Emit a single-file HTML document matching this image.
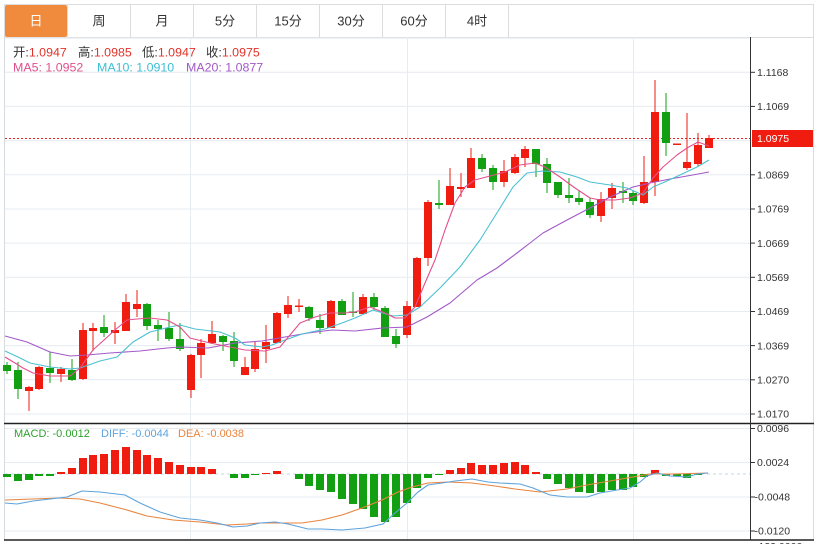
<!DOCTYPE html>
<html><head><meta charset="utf-8"><style>
html,body{margin:0;padding:0;background:#fff;}
svg{display:block;}
.r{fill:#f01c10}.g{fill:#12a012}
text{font-family:"Liberation Sans","Noto Sans CJK SC",sans-serif;}
.ax{font-size:10.5px;fill:#333;}
</style></head><body>
<svg width="827" height="544" viewBox="0 0 827 544" xmlns="http://www.w3.org/2000/svg">
<rect width="827" height="544" fill="#fff"/>
<!-- tab bar -->
<rect x="4.5" y="4.5" width="809" height="33" fill="#fff" stroke="#dcdcdc"/>
<rect x="5" y="5" width="62" height="32" rx="2" fill="#f08a3c"/>
<g stroke="#dcdcdc">
<line x1="67.5" y1="5" x2="67.5" y2="37"/><line x1="130.5" y1="5" x2="130.5" y2="37"/>
<line x1="193.5" y1="5" x2="193.5" y2="37"/><line x1="256.5" y1="5" x2="256.5" y2="37"/>
<line x1="319.5" y1="5" x2="319.5" y2="37"/><line x1="382.5" y1="5" x2="382.5" y2="37"/>
<line x1="445.5" y1="5" x2="445.5" y2="37"/><line x1="508.5" y1="5" x2="508.5" y2="37"/>
</g>
<g font-size="13" text-anchor="middle" fill="#333">
<text x="36" y="25.5" fill="#fff">日</text>
<text x="99" y="25.5">周</text>
<text x="162" y="25.5">月</text>
<text x="225" y="25.5">5分</text>
<text x="288" y="25.5">15分</text>
<text x="351" y="25.5">30分</text>
<text x="414" y="25.5">60分</text>
<text x="477" y="25.5">4时</text>
</g>
<!-- borders -->
<line x1="4.5" y1="37" x2="4.5" y2="540" stroke="#d6dbe0"/>
<line x1="813.5" y1="37" x2="813.5" y2="540" stroke="#dcdcdc"/>
<!-- grid main -->
<g stroke="#e6ecf0" stroke-width="1">
<line x1="5" y1="38.1" x2="750" y2="38.1"/>
<line x1="5" y1="72.3" x2="750" y2="72.3"/>
<line x1="5" y1="106.4" x2="750" y2="106.4"/>
<line x1="5" y1="140.6" x2="750" y2="140.6"/>
<line x1="5" y1="174.8" x2="750" y2="174.8"/>
<line x1="5" y1="209" x2="750" y2="209"/>
<line x1="5" y1="243.1" x2="750" y2="243.1"/>
<line x1="5" y1="277.3" x2="750" y2="277.3"/>
<line x1="5" y1="311.5" x2="750" y2="311.5"/>
<line x1="5" y1="345.6" x2="750" y2="345.6"/>
<line x1="5" y1="379.8" x2="750" y2="379.8"/>
<line x1="5" y1="414" x2="750" y2="414"/>
<line x1="5" y1="428.5" x2="750" y2="428.5"/>
<line x1="5" y1="462.5" x2="750" y2="462.5"/>
<line x1="5" y1="497" x2="750" y2="497"/>
<line x1="5" y1="531" x2="750" y2="531"/>
<line x1="190.5" y1="37" x2="190.5" y2="540"/>
<line x1="407.5" y1="37" x2="407.5" y2="540"/>
<line x1="633.5" y1="37" x2="633.5" y2="540"/>
</g>
<!-- legend -->
<g font-size="12.4">
<text x="13" y="56.5"><tspan fill="#333">开:</tspan><tspan fill="#e0332b">1.0947</tspan></text>
<text x="78" y="56.5"><tspan fill="#333">高:</tspan><tspan fill="#e0332b">1.0985</tspan></text>
<text x="142" y="56.5"><tspan fill="#333">低:</tspan><tspan fill="#e0332b">1.0947</tspan></text>
<text x="206" y="56.5"><tspan fill="#333">收:</tspan><tspan fill="#e0332b">1.0975</tspan></text>
<text x="13" y="71.5" fill="#e0508a">MA5: 1.0952</text>
<text x="97" y="71.5" fill="#3cbfd6">MA10: 1.0910</text>
<text x="186" y="71.5" fill="#a259c8">MA20: 1.0877</text>
</g>
<!-- current price line -->
<line x1="5" y1="138.5" x2="750" y2="138.5" stroke="#e02020" stroke-dasharray="2,2"/>
<!-- candles -->
<g shape-rendering="crispEdges">
<rect class="g" x="3" y="365" width="8" height="6"/><rect class="g" x="6.5" y="362" width="1" height="12"/>
<rect class="g" x="14" y="370" width="8" height="19"/><rect class="g" x="17.5" y="362" width="1" height="37"/>
<rect class="r" x="25" y="387" width="8" height="4"/><rect class="r" x="28.5" y="386" width="1" height="25"/>
<rect class="r" x="35" y="367" width="8" height="22"/><rect class="r" x="38.5" y="366" width="1" height="24"/>
<rect class="g" x="46" y="368" width="8" height="5"/><rect class="g" x="49.5" y="352" width="1" height="31"/>
<rect class="r" x="57" y="369" width="8" height="5"/><rect class="r" x="60.5" y="367" width="1" height="15"/>
<rect class="g" x="68" y="370" width="8" height="10"/><rect class="g" x="71.5" y="359" width="1" height="22"/>
<rect class="r" x="79" y="330" width="8" height="49"/><rect class="r" x="82.5" y="323" width="1" height="57"/>
<rect class="r" x="89" y="328" width="8" height="3"/><rect class="r" x="92.5" y="323" width="1" height="28"/>
<rect class="g" x="100" y="327" width="8" height="6"/><rect class="g" x="103.5" y="315" width="1" height="22"/>
<rect class="r" x="111" y="330" width="8" height="3"/><rect class="r" x="114.5" y="322" width="1" height="22"/>
<rect class="r" x="122" y="302" width="8" height="29"/><rect class="r" x="125.5" y="294" width="1" height="37"/>
<rect class="r" x="133" y="304" width="8" height="5"/><rect class="r" x="136.5" y="290" width="1" height="27"/>
<rect class="g" x="143" y="304" width="8" height="22"/><rect class="g" x="146.5" y="303" width="1" height="27"/>
<rect class="g" x="154" y="325" width="8" height="4"/><rect class="g" x="157.5" y="320" width="1" height="21"/>
<rect class="g" x="165" y="328" width="8" height="11"/><rect class="g" x="168.5" y="312" width="1" height="29"/>
<rect class="g" x="176" y="339" width="8" height="10"/><rect class="g" x="179.5" y="323" width="1" height="28"/>
<rect class="r" x="187" y="355" width="8" height="35"/><rect class="r" x="190.5" y="354" width="1" height="44"/>
<rect class="r" x="197" y="343" width="8" height="12"/><rect class="r" x="200.5" y="339" width="1" height="39"/>
<rect class="r" x="208" y="334" width="8" height="9"/><rect class="r" x="211.5" y="321" width="1" height="22"/>
<rect class="g" x="219" y="336" width="8" height="6"/><rect class="g" x="222.5" y="335" width="1" height="16"/>
<rect class="g" x="230" y="341" width="8" height="20"/><rect class="g" x="233.5" y="332" width="1" height="35"/>
<rect class="r" x="241" y="367" width="8" height="8"/><rect class="r" x="244.5" y="357" width="1" height="18"/>
<rect class="r" x="251" y="349" width="8" height="20"/><rect class="r" x="254.5" y="342" width="1" height="30"/>
<rect class="r" x="262" y="342" width="8" height="7"/><rect class="r" x="265.5" y="325" width="1" height="38"/>
<rect class="r" x="273" y="313" width="8" height="30"/><rect class="r" x="276.5" y="312" width="1" height="31"/>
<rect class="r" x="284" y="305" width="8" height="9"/><rect class="r" x="287.5" y="296" width="1" height="22"/>
<rect class="r" x="295" y="305.5" width="8" height="1.5"/><rect class="r" x="298.5" y="299" width="1" height="13"/>
<rect class="g" x="305" y="307" width="8" height="11"/><rect class="g" x="308.5" y="306" width="1" height="15"/>
<rect class="g" x="316" y="320" width="8" height="8"/><rect class="g" x="319.5" y="314" width="1" height="20"/>
<rect class="r" x="327" y="301" width="8" height="27"/><rect class="r" x="330.5" y="300" width="1" height="28"/>
<rect class="g" x="338" y="301" width="8" height="14"/><rect class="g" x="341.5" y="299" width="1" height="16"/>
<rect class="g" x="349" y="311.5" width="8" height="1.5"/><rect class="g" x="352.5" y="292" width="1" height="25"/>
<rect class="r" x="359" y="297" width="8" height="17"/><rect class="r" x="362.5" y="294" width="1" height="21"/>
<rect class="g" x="370" y="297" width="8" height="10"/><rect class="g" x="373.5" y="293" width="1" height="17"/>
<rect class="g" x="381" y="308" width="8" height="29"/><rect class="g" x="384.5" y="306" width="1" height="31"/>
<rect class="g" x="392" y="336" width="8" height="8"/><rect class="g" x="395.5" y="329" width="1" height="19"/>
<rect class="r" x="403" y="306" width="8" height="29"/><rect class="r" x="406.5" y="301" width="1" height="37"/>
<rect class="r" x="413" y="258" width="8" height="49"/><rect class="r" x="416.5" y="257" width="1" height="50"/>
<rect class="r" x="424" y="202" width="8" height="56"/><rect class="r" x="427.5" y="200" width="1" height="66"/>
<rect class="g" x="435" y="203" width="8" height="2"/><rect class="g" x="438.5" y="180" width="1" height="29"/>
<rect class="r" x="446" y="186" width="8" height="19"/><rect class="r" x="449.5" y="168" width="1" height="37"/>
<rect class="r" x="457" y="187" width="8" height="2"/><rect class="r" x="460.5" y="173" width="1" height="24"/>
<rect class="r" x="467" y="158" width="8" height="30"/><rect class="r" x="470.5" y="148" width="1" height="40"/>
<rect class="g" x="478" y="158" width="8" height="11"/><rect class="g" x="481.5" y="154" width="1" height="18"/>
<rect class="g" x="489" y="168" width="8" height="14"/><rect class="g" x="492.5" y="165" width="1" height="25"/>
<rect class="r" x="500" y="171" width="8" height="11"/><rect class="r" x="503.5" y="160" width="1" height="27"/>
<rect class="r" x="511" y="157" width="8" height="16"/><rect class="r" x="514.5" y="154" width="1" height="20"/>
<rect class="r" x="521" y="149" width="8" height="9"/><rect class="r" x="524.5" y="146" width="1" height="21"/>
<rect class="g" x="532" y="149" width="8" height="15"/><rect class="g" x="535.5" y="149" width="1" height="28"/>
<rect class="g" x="543" y="164" width="8" height="19"/><rect class="g" x="546.5" y="158" width="1" height="35"/>
<rect class="g" x="554" y="182" width="8" height="13"/><rect class="g" x="557.5" y="182" width="1" height="16"/>
<rect class="g" x="565" y="195" width="8" height="3"/><rect class="g" x="568.5" y="178" width="1" height="25"/>
<rect class="g" x="575" y="198" width="8" height="4"/><rect class="g" x="578.5" y="190" width="1" height="15"/>
<rect class="g" x="586" y="202" width="8" height="13"/><rect class="g" x="589.5" y="198" width="1" height="20"/>
<rect class="r" x="597" y="199" width="8" height="17"/><rect class="r" x="600.5" y="192" width="1" height="30"/>
<rect class="r" x="608" y="188" width="8" height="10"/><rect class="r" x="611.5" y="183" width="1" height="26"/>
<rect class="g" x="619" y="191" width="8" height="2"/><rect class="g" x="622.5" y="182" width="1" height="21"/>
<rect class="g" x="629" y="193" width="8" height="8"/><rect class="g" x="632.5" y="191" width="1" height="14"/>
<rect class="r" x="640" y="182" width="8" height="21"/><rect class="r" x="643.5" y="156" width="1" height="48"/>
<rect class="r" x="651" y="112" width="8" height="70"/><rect class="r" x="654.5" y="80" width="1" height="116"/>
<rect class="g" x="662" y="112" width="8" height="31"/><rect class="g" x="665.5" y="93" width="1" height="63"/>
<rect class="r" x="673" y="143.5" width="8" height="1.5"/>
<rect class="r" x="683" y="162" width="8" height="6"/><rect class="r" x="686.5" y="113" width="1" height="57"/>
<rect class="r" x="694" y="145" width="8" height="19"/><rect class="r" x="697.5" y="133" width="1" height="34"/>
<rect class="r" x="705" y="138" width="8" height="10"/><rect class="r" x="708.5" y="135" width="1" height="13"/>
</g>
<!-- MA lines -->
<g fill="none" stroke-width="1.1" stroke-linejoin="round">
<polyline stroke="#a259c8" points="5,336 27,342 50,352 70,356 87,355 110,353 140,351 167,348 180,347 208,348 235,343 262,341 285,337 308,333 332,330 355,331 383,328 407,327 427,317 450,303 477,280 497,268 517,253 530,243 543,233 567,220 590,208 610,197 633,187 650,183 670,179 687,176 709,172"/>
<polyline stroke="#4cc0d2" points="5,351 18,357 30,363 50,367 70,369 80,368 100,361 117,357 133,342 150,332 170,327 180,325 195,329 220,332 235,338 245,345 262,347 272,345 285,340 302,334 325,329 342,323 355,318 373,310 393,316 407,315 420,307 440,288 460,267 480,240 500,208 513,187 527,173 543,171 560,172 577,177 590,182 610,185 627,188 643,195 653,187 667,181 680,175 697,167 709,160"/>
<polyline stroke="#e4508c" points="5,357 15,363 23,368 33,373 50,376 70,376 80,368 93,350 104,340 115,330 127,320 137,319 150,318 167,320 180,327 190,338 210,343 230,347 245,350 265,351 280,347 290,335 300,323 315,317 330,313 345,313 355,312 370,307 385,313 395,318 405,318 415,307 425,283 435,260 445,230 455,203 465,187 475,180 490,176 505,172 520,165 535,163 545,167 560,177 575,188 590,198 600,200 615,200 630,198 643,193 653,178 663,167 677,155 687,148 698,142 709,146"/>
</g>
<!-- MACD panel -->
<line x1="4" y1="423.5" x2="814" y2="423.5" stroke="#222" stroke-width="1.5"/>
<line x1="4" y1="540" x2="814" y2="540" stroke="#222" stroke-width="1.5"/>
<line x1="5" y1="474" x2="750" y2="474" stroke="#b8dce8" stroke-dasharray="3,3"/>
<g font-size="11">
<text x="14" y="437" fill="#2ea12e">MACD: -0.0012</text>
<text x="101" y="437" fill="#5ea3dc">DIFF: -0.0044</text>
<text x="178" y="437" fill="#e8843f">DEA: -0.0038</text>
</g>
<g shape-rendering="crispEdges">
<rect class="r" x="57" y="472" width="8" height="2"/>
<rect class="r" x="68" y="468" width="8" height="6"/>
<rect class="r" x="79" y="458" width="8" height="16"/>
<rect class="r" x="89" y="455" width="8" height="19"/>
<rect class="r" x="100" y="454" width="8" height="20"/>
<rect class="r" x="111" y="450" width="8" height="24"/>
<rect class="r" x="122" y="447" width="8" height="27"/>
<rect class="r" x="133" y="450" width="8" height="24"/>
<rect class="r" x="143" y="455" width="8" height="19"/>
<rect class="r" x="154" y="458" width="8" height="16"/>
<rect class="r" x="165" y="462" width="8" height="12"/>
<rect class="r" x="176" y="465" width="8" height="9"/>
<rect class="r" x="187" y="467" width="8" height="7"/>
<rect class="r" x="197" y="467" width="8" height="7"/>
<rect class="r" x="208" y="469" width="8" height="5"/>
<rect class="r" x="262" y="473" width="8" height="1"/>
<rect class="r" x="273" y="471" width="8" height="3"/>
<rect class="r" x="446" y="470" width="8" height="4"/>
<rect class="r" x="457" y="468" width="8" height="6"/>
<rect class="r" x="467" y="463" width="8" height="11"/>
<rect class="r" x="478" y="465" width="8" height="9"/>
<rect class="r" x="489" y="465" width="8" height="9"/>
<rect class="r" x="500" y="463" width="8" height="11"/>
<rect class="r" x="511" y="462" width="8" height="12"/>
<rect class="r" x="521" y="465" width="8" height="9"/>
<rect class="r" x="532" y="472" width="8" height="2"/>
<rect class="r" x="651" y="470" width="8" height="4"/>
<rect class="g" x="3" y="474" width="8" height="3"/>
<rect class="g" x="14" y="474" width="8" height="7"/>
<rect class="g" x="25" y="474" width="8" height="6"/>
<rect class="g" x="35" y="474" width="8" height="2"/>
<rect class="g" x="46" y="474" width="8" height="2"/>
<rect class="g" x="230" y="474" width="8" height="4"/>
<rect class="g" x="241" y="474" width="8" height="4"/>
<rect class="g" x="251" y="474" width="8" height="1"/>
<rect class="g" x="295" y="474" width="8" height="5"/>
<rect class="g" x="305" y="474" width="8" height="12"/>
<rect class="g" x="316" y="474" width="8" height="16"/>
<rect class="g" x="327" y="474" width="8" height="18"/>
<rect class="g" x="338" y="474" width="8" height="25"/>
<rect class="g" x="349" y="474" width="8" height="30"/>
<rect class="g" x="359" y="474" width="8" height="35"/>
<rect class="g" x="370" y="474" width="8" height="43"/>
<rect class="g" x="381" y="474" width="8" height="48"/>
<rect class="g" x="392" y="474" width="8" height="43"/>
<rect class="g" x="403" y="474" width="8" height="29"/>
<rect class="g" x="413" y="474" width="8" height="14"/>
<rect class="g" x="424" y="474" width="8" height="4"/>
<rect class="g" x="435" y="474" width="8" height="1"/>
<rect class="g" x="543" y="474" width="8" height="5"/>
<rect class="g" x="554" y="474" width="8" height="10"/>
<rect class="g" x="565" y="474" width="8" height="14"/>
<rect class="g" x="575" y="474" width="8" height="18"/>
<rect class="g" x="586" y="474" width="8" height="19"/>
<rect class="g" x="597" y="474" width="8" height="18"/>
<rect class="g" x="608" y="474" width="8" height="16"/>
<rect class="g" x="619" y="474" width="8" height="16"/>
<rect class="g" x="629" y="474" width="8" height="13"/>
<rect class="g" x="640" y="474" width="8" height="3"/>
<rect class="g" x="662" y="474" width="8" height="2"/>
<rect class="g" x="673" y="474" width="8" height="2"/>
<rect class="g" x="683" y="474" width="8" height="4"/>
<rect class="g" x="694" y="474" width="8" height="1"/>
</g>
<g fill="none" stroke-width="1.1" stroke-linejoin="round">
<polyline stroke="#e8843f" points="5,500 33,499 60,498 80,499 100,503 127,510 147,516 173,520 200,522 227,525 247,524 260,523 302,523 322,520 342,515 362,508 382,500 398,492 412,487 428,483 448,482 472,483 495,486 515,489 540,492 567,489 587,485 610,481 633,477 650,474 673,474 708,473"/>
<polyline stroke="#5ea3dc" points="5,503 17,504 33,501 50,499 67,497 82,491 100,492 125,495 140,503 160,512 180,518 200,520 217,523 233,527 247,526 260,523 275,522 288,524 308,529 322,529 342,530 365,528 383,524 395,513 407,503 418,492 428,485 442,483 455,481 472,479 488,482 500,483 520,484 533,488 550,495 567,497 587,497 600,493 617,490 630,488 640,482 647,476 657,473 670,476 687,477 697,474 708,473"/>
</g>
<!-- right axis -->
<line x1="750.5" y1="37" x2="750.5" y2="540" stroke="#333"/>
<g stroke="#333">
<line x1="750" y1="72.3" x2="755" y2="72.3"/>
<line x1="750" y1="106.4" x2="755" y2="106.4"/>
<line x1="750" y1="174.8" x2="755" y2="174.8"/>
<line x1="750" y1="209" x2="755" y2="209"/>
<line x1="750" y1="243.1" x2="755" y2="243.1"/>
<line x1="750" y1="277.3" x2="755" y2="277.3"/>
<line x1="750" y1="311.5" x2="755" y2="311.5"/>
<line x1="750" y1="345.6" x2="755" y2="345.6"/>
<line x1="750" y1="379.8" x2="755" y2="379.8"/>
<line x1="750" y1="414" x2="755" y2="414"/>
<line x1="750" y1="428.5" x2="755" y2="428.5"/>
<line x1="750" y1="462.5" x2="755" y2="462.5"/>
<line x1="750" y1="497" x2="755" y2="497"/>
<line x1="750" y1="531" x2="755" y2="531"/>
</g>
<g class="ax">
<text x="757" y="76">1.1168</text>
<text x="757" y="110">1.1069</text>
<text x="757" y="178.5">1.0869</text>
<text x="757" y="212.7">1.0769</text>
<text x="757" y="246.8">1.0669</text>
<text x="757" y="281">1.0569</text>
<text x="757" y="315.2">1.0469</text>
<text x="757" y="349.3">1.0369</text>
<text x="757" y="383.5">1.0270</text>
<text x="757" y="417.7">1.0170</text>
<text x="757" y="432">0.0096</text>
<text x="757" y="466.2">0.0024</text>
<text x="754.5" y="500.7">-0.0048</text>
<text x="754.5" y="534.7">-0.0120</text>
<text x="755" y="550">-122.0000</text>
</g>
<rect x="752" y="130" width="61" height="17" fill="#f01c10"/>
<text x="757" y="142.2" font-size="10.5" fill="#fff">1.0975</text>
</svg>
</body></html>
